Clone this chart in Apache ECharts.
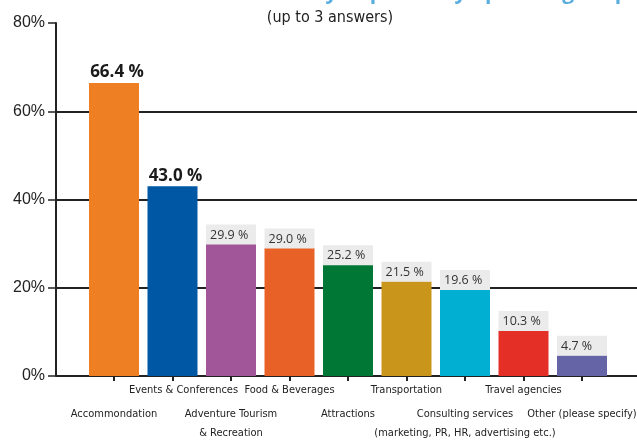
<!DOCTYPE html>
<html>
<head>
<meta charset="utf-8">
<script src="https://cdn.jsdelivr.net/npm/echarts@6/dist/echarts.min.js"></script>
<style>
  html, body { margin: 0; padding: 0; background: #fff; }
  #chart { width: 637px; height: 442px; }
</style>
</head>
<body>
<div id="chart"></div>
<script>
// Sectors and share of respondents (multiple answers allowed)
const categories = [
  'Accommondation',
  'Events & Conferences',
  'Adventure Tourism\n& Recreation',
  'Food & Beverages',
  'Attractions',
  'Transportation',
  'Consulting services\n(marketing, PR, HR, advertising etc.)',
  'Travel agencies',
  'Other (please specify)'
];
const shares = [66.4, 43.0, 29.9, 29.0, 25.2, 21.5, 19.6, 10.3, 4.7];
const barColors = ['#ee7f22', '#0057a4', '#a05699', '#e86228', '#007734', '#c9951b', '#00afd2', '#e32f26', '#6464a6'];
const yTicks = [0, 20, 40, 60, 80];

const narrow = "'DejaVu Sans Condensed', 'Liberation Sans', sans-serif";
const ink = '#222';

const barData = shares.map((v, i) => {
  const highlight = i < 2;
  return {
    value: v,
    itemStyle: { color: barColors[i] },
    label: highlight ? {
      show: true,
      position: 'top',
      distance: 2,
      offset: [3, 0],
      formatter: v.toFixed(1) + ' %',
      fontFamily: "'Open Sans', sans-serif",
      fontSize: 17,
      fontWeight: 'bold',
      color: '#1a1a1a'
    } : {
      show: true,
      position: 'top',
      distance: 3,
      formatter: '{v|' + v.toFixed(1) + ' %}',
      rich: {
        v: {
          width: 42,
          height: 13,
          lineHeight: 13,
          padding: [4, 4, 3, 4],
          align: 'left',
          backgroundColor: '#ebebeb',
          fontFamily: "'Open Sans', sans-serif",
          fontSize: 12.5,
          color: '#333'
        }
      }
    }
  };
});

const chart = echarts.init(document.getElementById('chart'), null, { renderer: 'canvas' });
chart.setOption({
  animation: false,
  backgroundColor: '#fff',
  graphic: [
    {
      type: 'text',
      style: {
        x: 320, y: 4,
        text: 'In which sectors of tourism are you primarily operating? Topic',
        align: 'center',
        verticalAlign: 'bottom',
        fontFamily: "'Open Sans', sans-serif",
        fontWeight: 'bold',
        fontSize: 21,
        fill: '#5aaede'
      }
    },
    {
      type: 'text',
      style: {
        x: 330, y: 18,
        text: '(up to 3 answers)',
        align: 'center',
        verticalAlign: 'middle',
        fontFamily: narrow,
        fontSize: 16,
        fill: ink
      }
    }
  ],
  grid: [
    { left: 56, right: 0, top: 23, bottom: 66, outerBoundsMode: 'none' },
    { left: 84.75, right: 25.75, top: 23, bottom: 66, outerBoundsMode: 'none' }
  ],
  xAxis: [
    { gridIndex: 0, type: 'value', show: false, min: 0, max: 1 },
    {
      gridIndex: 1,
      type: 'category',
      data: categories,
      axisLine: { show: false },
      axisTick: { show: true, alignWithLabel: true, length: 5, lineStyle: { color: ink, width: 2 } },
      axisLabel: {
        interval: 0,
        margin: 5,
        hideOverlap: false,
        formatter: (val, idx) => {
          const style = idx === 1 ? 'e' : 'a';
          const body = val.split('\n').map(l => '{' + style + '|' + l + '}').join('\n');
          return idx % 2 === 1 ? body : '{g| }\n' + body;
        },
        rich: {
          a: { fontFamily: narrow, fontSize: 11, lineHeight: 19, color: ink },
          e: { fontFamily: narrow, fontSize: 11, lineHeight: 19, color: ink, padding: [0, 0, 0, 22] },
          g: { fontFamily: narrow, fontSize: 11, lineHeight: 24 }
        }
      }
    }
  ],
  yAxis: [
    {
      gridIndex: 0,
      type: 'value',
      min: yTicks[0],
      max: yTicks[yTicks.length - 1],
      interval: 20,
      axisLine: { show: true, lineStyle: { color: ink, width: 2 } },
      axisTick: { show: true, length: 8, lineStyle: { color: ink, width: 1.5 } },
      axisLabel: {
        margin: 11,
        formatter: '{value}%',
        fontFamily: "'Liberation Sans', sans-serif",
        fontSize: 16,
        color: ink
      },
      splitLine: {
        show: true,
        lineStyle: { color: [ink, ink, ink, ink, 'rgba(0,0,0,0)'], width: 2 }
      }
    },
    { gridIndex: 1, type: 'value', min: 0, max: 80, show: false }
  ],
  series: [
    {
      type: 'bar',
      xAxisIndex: 1,
      yAxisIndex: 1,
      barWidth: 50,
      data: barData
    }
  ]
});
</script>
</body>
</html>
